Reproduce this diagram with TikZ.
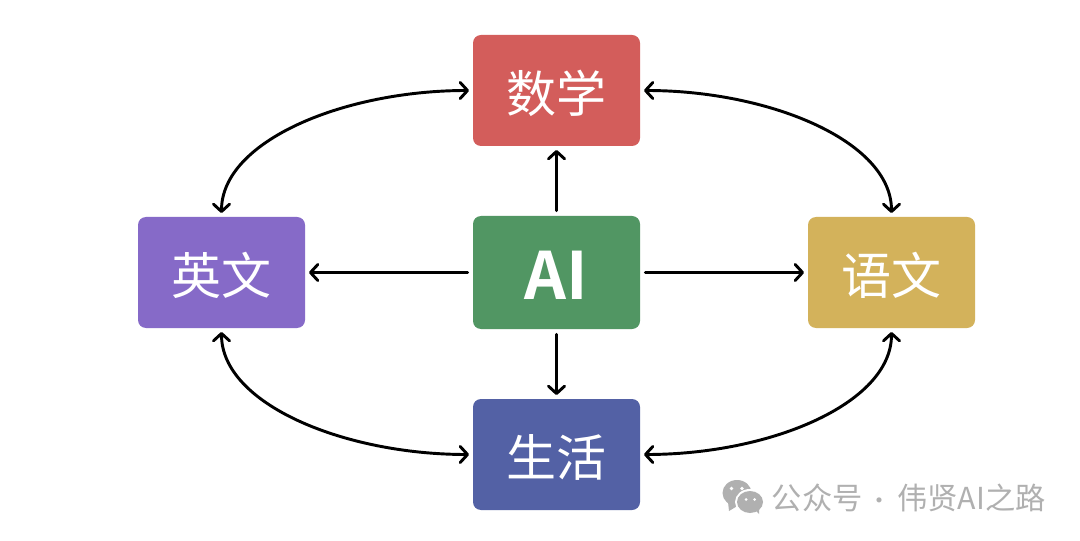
\documentclass[tikz,border=0pt]{standalone}
\usepackage{fontspec}
\usetikzlibrary{arrows.meta}
\newfontfamily\cjk{Noto Sans CJK SC}
\newfontfamily\cjkb{Noto Sans CJK SC Bold}
\definecolor{cred}{HTML}{D35D5B}
\definecolor{cgreen}{HTML}{519663}
\definecolor{cpurple}{HTML}{866AC8}
\definecolor{cyellow}{HTML}{D3B25B}
\definecolor{cblue}{HTML}{5361A5}
\definecolor{cmark}{HTML}{B0B0B0}
\newcommand{\lowered}[1]{\raisebox{-2.2pt}[\height][\depth]{#1}}
\tikzset{
  card/.style={rounded corners=6pt,minimum width=125.25pt,minimum height=83.25pt,inner sep=0pt,outer sep=3pt,text=white,font=\cjk\fontsize{37.5}{37.5}\selectfont},
  link/.style={draw=black,line width=2.2pt,line cap=round,line join=round,{Straight Barb[length=5.5pt,width=12pt,line width=2.2pt,round]}-{Straight Barb[length=5.5pt,width=12pt,line width=2.2pt,round]}},
  oneway/.style={draw=black,line width=2.2pt,line cap=round,shorten <=1pt,-{Straight Barb[length=5.5pt,width=12pt,line width=2.2pt,round]}}
}
\begin{document}
\begin{tikzpicture}[x=0.75pt,y=-0.75pt]
\useasboundingbox (0,0) rectangle (1080,541);
\fill[white] (0,0) rectangle (1080,541);
\node[card,fill=cred] (math) at (556.5,90.5) {\lowered{数学}};
\node[card,fill=cgreen,minimum height=84.75pt,font=\cjkb\fontsize{49}{49}\selectfont] (ai) at (556.5,272.5) {\lowered{AI}};
\node[card,fill=cpurple] (eng) at (221.5,272.5) {\lowered{英文}};
\node[card,fill=cyellow] (chn) at (891.5,272.5) {\lowered{语文}};
\node[card,fill=cblue] (life) at (556.5,454.5) {\lowered{生活}};
\draw[oneway] (ai) -- (math);
\draw[oneway] (ai) -- (life);
\draw[oneway] (ai) -- (eng);
\draw[oneway] (ai) -- (chn);
\draw[link] (math.west) .. controls +(-125,0) and +(0,-72) .. (eng.north);
\draw[link] (math.east) .. controls +(125,0) and +(0,-72) .. (chn.north);
\draw[link] (life.west) .. controls +(-125,0) and +(0,72) .. (eng.south);
\draw[link] (life.east) .. controls +(125,0) and +(0,72) .. (chn.south);
% WeChat icon
\fill[cmark] (737,493) ellipse [x radius=14.5,y radius=13];
\fill[cmark] (728,502) -- (729,511) -- (739,505) -- cycle;
\fill[white] (750,502) ellipse [x radius=15,y radius=13];
\fill[cmark] (750,502) ellipse [x radius=13,y radius=11];
\fill[cmark] (755,510) -- (759,514) -- (759,508) -- cycle;
\fill[white] (731.5,488.5) circle (1.8) (742,488.5) circle (1.8) (746,499.5) circle (1.5) (754.5,499.5) circle (1.5);
\node[anchor=west,inner sep=0pt,text=cmark,font=\cjk\fontsize{22.7}{22.7}\selectfont] (wm) at (771.5,497.5) {公众号\hspace{3.5pt}{\fontsize{18}{18}\selectfont ·}\hspace{4.5pt}伟贤AI之路};
\end{tikzpicture}
\end{document}
